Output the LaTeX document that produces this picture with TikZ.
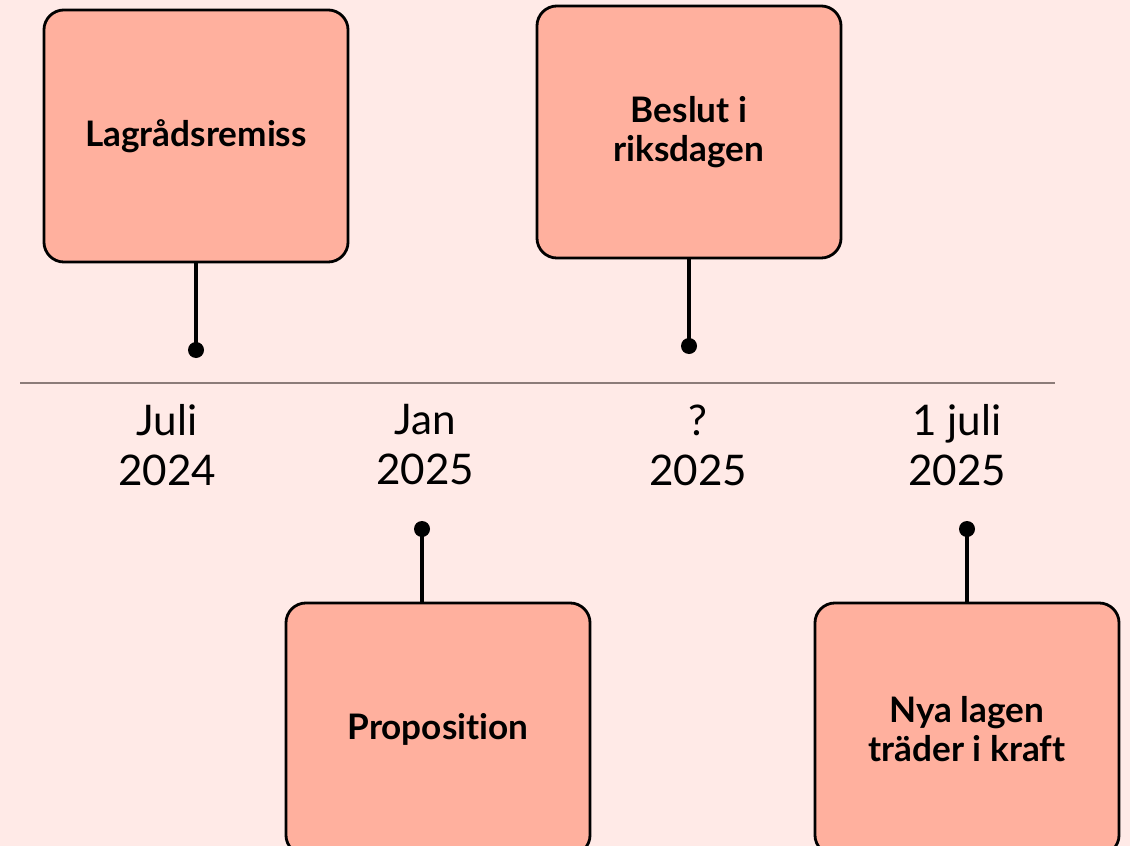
\documentclass[tikz,border=0pt]{standalone}
\usepackage{fontspec}
\usepackage{tikz}
\usetikzlibrary{positioning}
\setmainfont{Lato}[Ligatures={NoCommon}]
\definecolor{bgpink}{HTML}{FFEAE7}
\definecolor{salmon}{HTML}{FFB09E}
\definecolor{axisgray}{HTML}{8C7C79}

\begin{document}
\begin{tikzpicture}[x=0.025cm, y=-0.025cm, thick,
	event/.style={draw=black, fill=salmon, line width=2pt, rounded corners=0.5cm, minimum width=7.6cm, minimum height=6.3cm, align=center, font=\fontsize{25}{27.5}\selectfont\bfseries},
	date/.style={align=center, font=\fontsize{30}{35.5}\selectfont},
	stem/.style={line width=2.2pt},
	dot/.style={circle, fill=black, inner sep=0pt, minimum size=0.4cm}]
		% background
		\fill[bgpink] (0,0) rectangle (1130,846);
		\useasboundingbox (0,0) rectangle (1130,846);
		\clip (0,0) rectangle (1130,846);
		% time axis
		\coordinate (axisL) at (20,383);
		\coordinate (axisR) at (1055,383);
		\draw[axisgray, line width=1.4pt] (axisL) -- (axisR);
		% dates
		\node[date] (t1) at (167,445) {Juli\\2024};
		\node[date] (t2) at (425,445) {Jan\\2025};
		\node[date] (t3) at (698,445) {?\\2025};
		\node[date] (t4) at (957,445) {1 juli\\2025};
		% events above
		\node[event] (remiss) at (196,136) {Lagrådsremiss};
		\node[event] (beslut) at (689,132) {Beslut i\\riksdagen};
		\node[dot] (d1) at (196,350) {};
		\node[dot] (d3) at (689,346) {};
		\draw[stem] (remiss.south) -- (d1.center);
		\draw[stem] (beslut.south) -- (d3.center);
		% events below
		\node[event] (prop) at (438,729) {Proposition};
		\node[event] (ikraft) at (967,729) {Nya lagen\\träder i kraft};
		\node[dot] (d2) at (422,529) {};
		\node[dot] (d4) at (967,529) {};
		\draw[stem] (d2.center) -- (d2 |- prop.north);
		\draw[stem] (d4.center) -- (ikraft.north);
	\end{tikzpicture}
\end{document}
